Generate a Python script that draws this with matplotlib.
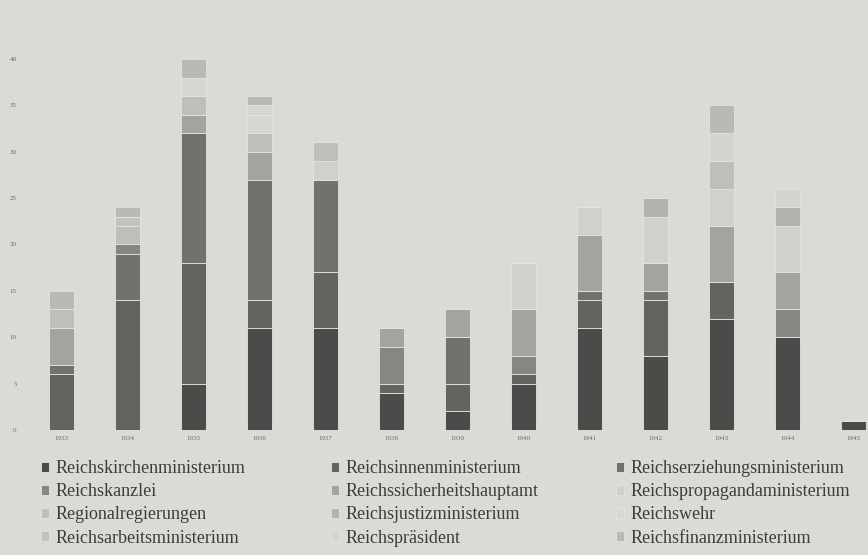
import numpy as np
import matplotlib
matplotlib.use('Agg')
import matplotlib.pyplot as plt

plt.rcParams['font.family'] = ['Liberation Serif', 'DejaVu Serif']

# Years on the x axis
years = ['1933', '1934', '1935', '1936', '1937', '1938', '1939',
         '1940', '1941', '1942', '1943', '1944', '1945']

# Counts per authority, one list per series (1933 .. 1945)
kirchen = [0, 0, 5, 11, 11, 4, 2, 5, 11, 8, 12, 10, 1]
innen = [6, 14, 13, 3, 6, 1, 3, 1, 3, 6, 4, 0, 0]
erziehung = [1, 5, 14, 13, 10, 0, 5, 0, 1, 1, 0, 0, 0]
kanzlei = [0, 1, 0, 0, 0, 4, 0, 2, 0, 0, 0, 3, 0]
sicherheit = [4, 0, 2, 3, 0, 2, 3, 5, 6, 3, 6, 4, 0]
propaganda = [0, 0, 0, 0, 2, 0, 0, 5, 3, 5, 4, 5, 0]
regional = [2, 2, 2, 2, 2, 0, 0, 0, 0, 0, 3, 0, 0]
justiz = [0, 0, 0, 0, 0, 0, 0, 0, 0, 2, 0, 2, 0]
wehr = [0, 0, 2, 2, 0, 0, 0, 0, 0, 0, 0, 0, 0]
arbeit = [0, 1, 0, 0, 0, 0, 0, 0, 0, 0, 0, 0, 0]
praesident = [0, 0, 0, 1, 0, 0, 0, 0, 0, 0, 3, 2, 0]
finanz = [2, 1, 2, 1, 0, 0, 0, 0, 0, 0, 3, 0, 0]

series = [
    ('Reichskirchenministerium', kirchen, '#4b4c49'),
    ('Reichsinnenministerium', innen, '#62645f'),
    ('Reichserziehungsministerium', erziehung, '#70726d'),
    ('Reichskanzlei', kanzlei, '#858782'),
    ('Reichssicherheitshauptamt', sicherheit, '#a2a49f'),
    ('Reichspropagandaministerium', propaganda, '#cfd1cc'),
    ('Regionalregierungen', regional, '#bdbfba'),
    ('Reichsjustizministerium', justiz, '#b1b3ae'),
    ('Reichswehr', wehr, '#d5d7d2'),
    ('Reichsarbeitsministerium', arbeit, '#c1c3be'),
    ('Reichspräsident', praesident, '#d3d5d0'),
    ('Reichsfinanzministerium', finanz, '#b8bab5'),
]

bg = '#d9dbd6'
fig = plt.figure(figsize=(8.68, 5.55), dpi=100, facecolor=bg)
ax = fig.add_axes([0.0288, 0.2252, 0.9712, 0.6853])
ax.set_facecolor(bg)

x = np.arange(len(years))
bottom = np.zeros(len(years))
handles = []
for name, vals, col in series:
    vals = np.array(vals, dtype=float)
    b = ax.bar(x, vals, 0.38, bottom=bottom, color=col, edgecolor='#e2e4df',
               linewidth=0.6, label=name)
    handles.append(b)
    bottom += vals

ax.set_xlim(-0.553, 12.22)
ax.set_ylim(0, 41)
ax.set_yticks(range(0, 41, 5))
ax.set_xticks(x)
ax.set_xticklabels(years)
ax.tick_params(axis='both', length=0, labelsize=5, labelcolor='#6a6b68')
ax.tick_params(axis='y', pad=6)
ax.tick_params(axis='x', pad=4)
for s in ax.spines.values():
    s.set_visible(False)

# legend is read row by row: one legend per column so the columns sit where they should
col_x = [0.0472, 0.3813, 0.7097]
for c in range(3):
    idx = list(range(c, 12, 3))
    leg = fig.legend([handles[i] for i in idx], [series[i][0] for i in idx],
                     loc='upper left', bbox_to_anchor=(col_x[c], 0.171),
                     frameon=False, fontsize=13, handlelength=0.45, handleheight=0.45,
                     handletextpad=0.35, labelspacing=0.34,
                     borderaxespad=0, borderpad=0)
    for t in leg.get_texts():
        t.set_color('#3c3d3a')

fig.savefig('out.png', dpi=100, facecolor=bg)
